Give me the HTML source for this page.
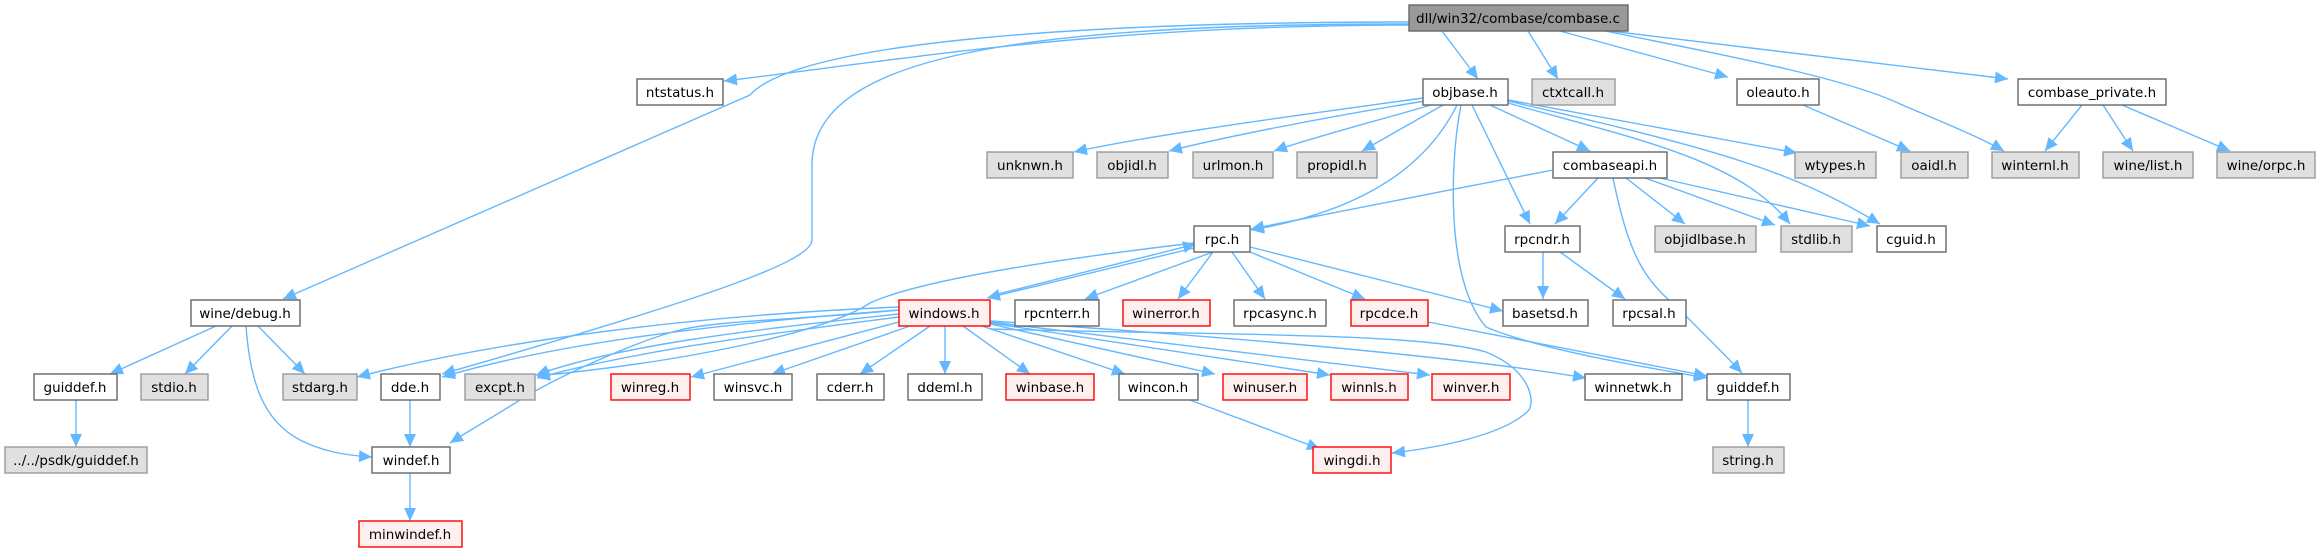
<!DOCTYPE html>
<html><head><meta charset="utf-8"><style>
html,body{margin:0;padding:0;background:#fff;}
svg{display:block}
text{font-family:"DejaVu Sans","Liberation Sans",sans-serif;font-size:13.5px;fill:#000}
.e{fill:none;stroke:#63b8ff;stroke-width:1.4}
</style></head><body>
<svg width="2318" height="549" viewBox="0 0 2318 549" xmlns="http://www.w3.org/2000/svg">
<defs>
<marker id="a" markerUnits="userSpaceOnUse" markerWidth="14" markerHeight="12" refX="13" refY="6" orient="auto">
<path d="M0,0 L13,6 L0,12 z" fill="#63b8ff"/>
</marker>
</defs>
<g class="e" marker-end="url(#a)">
<!-- combase.c -->
<path d="M1409,25 C1100,25 900,60 724,81"/>
<path d="M1409,22 C1100,22 800,40 750,95 L283,299"/>
<path d="M1409,24 C1000,24 812,60 812,165 L812,240 C812,262 700,300 442,374"/>
<path d="M1442,31 L1478,79"/>
<path d="M1528,31 L1558,79"/>
<path d="M1560,31 L1728,77"/>
<path d="M1605,31 C1750,60 1850,80 1900,104 C1950,125 1985,140 2004,151"/>
<path d="M1610,31 L2008,79"/>
<!-- objbase.h -->
<path d="M1423,98 C1300,115 1150,135 1074,152"/>
<path d="M1425,101 C1320,118 1220,138 1169,151"/>
<path d="M1431,105 C1380,120 1310,138 1274,151"/>
<path d="M1443,105 L1362,151"/>
<path d="M1457,105 C1420,180 1340,215 1251,230"/>
<path d="M1472,105 L1530,224"/>
<path d="M1461,105 C1450,160 1445,280 1486,327 C1540,350 1650,368 1707,378"/>
<path d="M1490,105 L1590,151"/>
<path d="M1508,100 L1797,153"/>
<path d="M1508,103 C1640,140 1740,160 1790,224"/>
<path d="M1508,101 C1720,150 1790,170 1880,224"/>
<!-- combaseapi.h -->
<path d="M1553,170 C1450,190 1320,215 1251,229"/>
<path d="M1598,178 L1555,224"/>
<path d="M1613,178 C1630,260 1645,280 1680,310 C1710,340 1730,360 1742,373"/>
<path d="M1626,178 L1685,224"/>
<path d="M1645,178 L1775,225"/>
<path d="M1660,178 L1870,226"/>
<!-- rpc.h -->
<path d="M1194,248 L987,298"/>
<path d="M990,296 L1196,244"/>
<path d="M1194,243 C1050,260 920,280 870,303 C830,330 700,360 537,376"/>
<path d="M1213,252 L1085,299"/>
<path d="M1213,252 L1178,299"/>
<path d="M1232,252 L1265,299"/>
<path d="M1250,252 L1365,299"/>
<path d="M1250,247 L1503,311"/>
<!-- rpcndr -->
<path d="M1543,252 L1543,299"/>
<path d="M1560,252 L1625,299"/>
<!-- rpcdce -->
<path d="M1428,322 L1707,376"/>
<!-- oleauto -->
<path d="M1803,105 L1910,151"/>
<!-- combase_private -->
<path d="M2082,105 L2045,151"/>
<path d="M2103,105 L2133,151"/>
<path d="M2122,105 L2230,151"/>
<!-- windows.h -->
<path d="M899,307 C700,315 500,340 357,377"/>
<path d="M899,310 C700,325 550,345 442,377"/>
<path d="M899,314 C750,330 620,345 536,375"/>
<path d="M899,317 C760,335 640,350 537,378"/>
<path d="M899,310 C800,320 720,320 680,330 C640,340 560,375 520,400 C480,425 470,430 450,443"/>
<path d="M899,322 L691,377"/>
<path d="M910,326 L772,374"/>
<path d="M930,326 L860,374"/>
<path d="M945,326 L945,374"/>
<path d="M963,326 L1030,374"/>
<path d="M982,326 L1125,374"/>
<path d="M990,324 L1215,374"/>
<path d="M990,323 L1330,375"/>
<path d="M990,322 L1430,375"/>
<path d="M990,321 C1200,335 1450,355 1586,378"/>
<path d="M990,329 C1200,335 1420,332 1486,352 C1530,370 1535,400 1529,410 C1510,430 1460,445 1392,453"/>
<!-- wine/debug.h -->
<path d="M216,326 L110,374"/>
<path d="M232,326 L185,374"/>
<path d="M258,326 L305,374"/>
<path d="M246,326 C250,380 262,420 300,440 C320,450 340,455 372,457"/>
<!-- others -->
<path d="M76,400 L76,447"/>
<path d="M410,400 L410,447"/>
<path d="M410,473 L410,521"/>
<path d="M1190,400 L1320,449"/>
<path d="M1748,400 L1748,447"/>
</g>
<g stroke-width="1.4">
<!-- row0 -->
<rect x="1409" y="5" width="219" height="26" fill="#999" stroke="#666"/>
<!-- row1 -->
<rect x="637" y="79" width="86" height="26" fill="#fff" stroke="#666"/>
<rect x="1423" y="79" width="85" height="26" fill="#fff" stroke="#666"/>
<rect x="1532" y="79" width="83" height="26" fill="#e0e0e0" stroke="#999"/>
<rect x="1737" y="79" width="82" height="26" fill="#fff" stroke="#666"/>
<rect x="2018" y="79" width="148" height="26" fill="#fff" stroke="#666"/>
<!-- row2 -->
<rect x="987" y="152" width="86" height="26" fill="#e0e0e0" stroke="#999"/>
<rect x="1097" y="152" width="71" height="26" fill="#e0e0e0" stroke="#999"/>
<rect x="1193" y="152" width="80" height="26" fill="#e0e0e0" stroke="#999"/>
<rect x="1297" y="152" width="80" height="26" fill="#e0e0e0" stroke="#999"/>
<rect x="1553" y="152" width="114" height="26" fill="#fff" stroke="#666"/>
<rect x="1795" y="152" width="81" height="26" fill="#e0e0e0" stroke="#999"/>
<rect x="1901" y="152" width="67" height="26" fill="#e0e0e0" stroke="#999"/>
<rect x="1992" y="152" width="87" height="26" fill="#e0e0e0" stroke="#999"/>
<rect x="2103" y="152" width="90" height="26" fill="#e0e0e0" stroke="#999"/>
<rect x="2217" y="152" width="98" height="26" fill="#e0e0e0" stroke="#999"/>
<!-- row3 -->
<rect x="1194" y="226" width="56" height="26" fill="#fff" stroke="#666"/>
<rect x="1505" y="226" width="75" height="26" fill="#fff" stroke="#666"/>
<rect x="1655" y="226" width="101" height="26" fill="#e0e0e0" stroke="#999"/>
<rect x="1781" y="226" width="71" height="26" fill="#e0e0e0" stroke="#999"/>
<rect x="1877" y="226" width="69" height="26" fill="#fff" stroke="#666"/>
<!-- row4 -->
<rect x="191" y="300" width="109" height="26" fill="#fff" stroke="#666"/>
<rect x="899" y="300" width="91" height="26" fill="#fff0f0" stroke="#ff0000"/>
<rect x="1015" y="300" width="84" height="26" fill="#fff" stroke="#666"/>
<rect x="1123" y="300" width="87" height="26" fill="#fff0f0" stroke="#ff0000"/>
<rect x="1234" y="300" width="92" height="26" fill="#fff" stroke="#666"/>
<rect x="1351" y="300" width="77" height="26" fill="#fff0f0" stroke="#ff0000"/>
<rect x="1503" y="300" width="85" height="26" fill="#fff" stroke="#666"/>
<rect x="1613" y="300" width="73" height="26" fill="#fff" stroke="#666"/>
<!-- row5 -->
<rect x="34" y="374" width="83" height="26" fill="#fff" stroke="#666"/>
<rect x="141" y="374" width="67" height="26" fill="#e0e0e0" stroke="#999"/>
<rect x="283" y="374" width="74" height="26" fill="#e0e0e0" stroke="#999"/>
<rect x="381" y="374" width="59" height="26" fill="#fff" stroke="#666"/>
<rect x="465" y="374" width="70" height="26" fill="#e0e0e0" stroke="#999"/>
<rect x="611" y="374" width="79" height="26" fill="#fff0f0" stroke="#ff0000"/>
<rect x="714" y="374" width="78" height="26" fill="#fff" stroke="#666"/>
<rect x="817" y="374" width="67" height="26" fill="#fff" stroke="#666"/>
<rect x="908" y="374" width="74" height="26" fill="#fff" stroke="#666"/>
<rect x="1006" y="374" width="88" height="26" fill="#fff0f0" stroke="#ff0000"/>
<rect x="1119" y="374" width="79" height="26" fill="#fff" stroke="#666"/>
<rect x="1223" y="374" width="84" height="26" fill="#fff0f0" stroke="#ff0000"/>
<rect x="1331" y="374" width="77" height="26" fill="#fff0f0" stroke="#ff0000"/>
<rect x="1432" y="374" width="78" height="26" fill="#fff0f0" stroke="#ff0000"/>
<rect x="1585" y="374" width="97" height="26" fill="#fff" stroke="#666"/>
<rect x="1707" y="374" width="83" height="26" fill="#fff" stroke="#666"/>
<!-- row6 -->
<rect x="5" y="447" width="142" height="26" fill="#e0e0e0" stroke="#999"/>
<rect x="372" y="447" width="78" height="26" fill="#fff" stroke="#666"/>
<rect x="1313" y="447" width="78" height="26" fill="#fff0f0" stroke="#ff0000"/>
<rect x="1713" y="447" width="71" height="26" fill="#e0e0e0" stroke="#999"/>
<!-- row7 -->
<rect x="359" y="521" width="103" height="26" fill="#fff0f0" stroke="#ff0000"/>
</g>
<g text-anchor="middle">
<text x="1518" y="23">dll/win32/combase/combase.c</text>
<text x="680" y="97">ntstatus.h</text>
<text x="1465" y="97">objbase.h</text>
<text x="1573" y="97">ctxtcall.h</text>
<text x="1778" y="97">oleauto.h</text>
<text x="2092" y="97">combase_private.h</text>
<text x="1030" y="170">unknwn.h</text>
<text x="1132" y="170">objidl.h</text>
<text x="1233" y="170">urlmon.h</text>
<text x="1337" y="170">propidl.h</text>
<text x="1610" y="170">combaseapi.h</text>
<text x="1835" y="170">wtypes.h</text>
<text x="1934" y="170">oaidl.h</text>
<text x="2035" y="170">winternl.h</text>
<text x="2148" y="170">wine/list.h</text>
<text x="2266" y="170">wine/orpc.h</text>
<text x="1222" y="244">rpc.h</text>
<text x="1542" y="244">rpcndr.h</text>
<text x="1705" y="244">objidlbase.h</text>
<text x="1816" y="244">stdlib.h</text>
<text x="1911" y="244">cguid.h</text>
<text x="245" y="318">wine/debug.h</text>
<text x="944" y="318">windows.h</text>
<text x="1057" y="318">rpcnterr.h</text>
<text x="1166" y="318">winerror.h</text>
<text x="1280" y="318">rpcasync.h</text>
<text x="1389" y="318">rpcdce.h</text>
<text x="1545" y="318">basetsd.h</text>
<text x="1649" y="318">rpcsal.h</text>
<text x="75" y="392">guiddef.h</text>
<text x="174" y="392">stdio.h</text>
<text x="320" y="392">stdarg.h</text>
<text x="410" y="392">dde.h</text>
<text x="500" y="392">excpt.h</text>
<text x="650" y="392">winreg.h</text>
<text x="753" y="392">winsvc.h</text>
<text x="850" y="392">cderr.h</text>
<text x="945" y="392">ddeml.h</text>
<text x="1050" y="392">winbase.h</text>
<text x="1158" y="392">wincon.h</text>
<text x="1265" y="392">winuser.h</text>
<text x="1369" y="392">winnls.h</text>
<text x="1471" y="392">winver.h</text>
<text x="1633" y="392">winnetwk.h</text>
<text x="1748" y="392">guiddef.h</text>
<text x="76" y="465">../../psdk/guiddef.h</text>
<text x="411" y="465">windef.h</text>
<text x="1352" y="465">wingdi.h</text>
<text x="1748" y="465">string.h</text>
<text x="410" y="539">minwindef.h</text>
</g>
</svg>
</body></html>
